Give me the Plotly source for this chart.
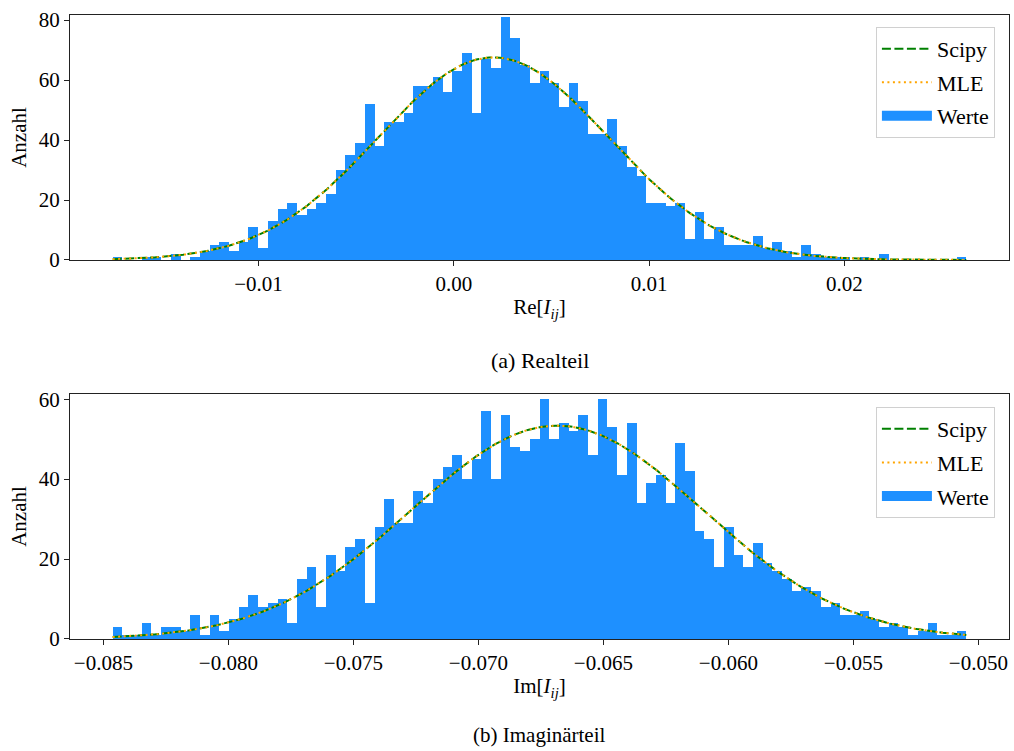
import numpy as np
import plotly.graph_objects as go

# ---------------- data ----------------
# Real part histogram (88 bins)
re_edge0 = -0.017466
re_width = 0.0004967
re_counts = [1, 0, 0, 1, 1, 0, 2, 0, 1, 3, 5, 6, 3, 6, 11, 4, 13, 17, 19, 15, 17, 19, 22,
             30, 35, 39, 52, 38, 46, 46, 49, 58, 58, 61, 56, 63, 69, 49, 67, 64, 81, 74, 65, 59, 63, 59,
             51, 59, 53, 42, 42, 47, 38, 31, 28, 19, 19, 18, 19, 7, 16, 7, 11, 5, 5, 5, 8, 4,
             6, 3, 1, 5, 2, 1, 1, 1, 0, 1, 0, 2, 0, 0, 0, 0, 0, 0, 0, 1]
re_mu_scipy, re_sigma_scipy = 0.00203, 0.00588
re_mu_mle, re_sigma_mle = 0.00203, 0.00588

# Imaginary part histogram (88 bins)
im_edge0 = -0.084628
im_width = 0.000388
im_counts = [3, 1, 1, 4, 1, 3, 3, 2, 6, 1, 6, 2, 5, 8, 11, 8, 9, 10, 4, 15, 18, 8,
             21, 17, 23, 25, 9, 28, 35, 29, 29, 37, 34, 40, 43, 46, 40, 45, 57, 40, 56, 48, 47, 50, 60,
             50, 54, 52, 56, 46, 60, 53, 41, 54, 34, 39, 41, 34, 49, 42, 27, 25, 18, 28, 21, 18, 24, 19,
             17, 15, 12, 13, 12, 8, 9, 6, 6, 7, 5, 3, 4, 3, 1, 2, 4, 1, 1, 2]
im_mu_scipy, im_sigma_scipy = -0.06685, 0.00581
im_mu_mle, im_sigma_mle = -0.06685, 0.00581

re_yticks = [0, 20, 40, 60, 80]
im_yticks = [0, 20, 40, 60]

# ---------------- helpers ----------------
FONT = "Liberation Serif, Times New Roman, serif"
BLUE = "#1E90FF"
GREEN = "#008000"
ORANGE = "#FFA500"


def gauss(x, mu, sigma, n, w):
    return n * w * np.exp(-0.5 * ((x - mu) / sigma) ** 2) / (sigma * np.sqrt(2 * np.pi))


fig = go.Figure()


def add_panel(edge0, width, counts, mus, xa, ya, legend):
    counts = np.asarray(counts)
    nb = len(counts)
    edges = edge0 + width * np.arange(nb + 1)
    centers = 0.5 * (edges[:-1] + edges[1:])
    n = counts.sum()
    xs = np.linspace(edges[0], edges[-1], 400)
    fig.add_trace(go.Bar(x=centers, y=counts, width=width, marker=dict(color=BLUE, line=dict(width=0)),
                         name="Werte", xaxis=xa, yaxis=ya, showlegend=False))
    (mu_s, sg_s), (mu_m, sg_m) = mus
    fig.add_trace(go.Scatter(x=xs, y=gauss(xs, mu_s, sg_s, n, width), mode="lines",
                             line=dict(color=GREEN, width=2, dash="9px,3.5px"), name="Scipy",
                             xaxis=xa, yaxis=ya, legend=legend, legendgroup=legend + "a"))
    fig.add_trace(go.Scatter(x=xs, y=gauss(xs, mu_m, sg_m, n, width), mode="lines",
                             line=dict(color=ORANGE, width=2, dash="2px,3.5px"), name="MLE",
                             xaxis=xa, yaxis=ya, legend=legend, legendgroup=legend + "b"))
    # legend entry for the histogram patch
    fig.add_trace(go.Scatter(x=[None], y=[None], mode="lines", line=dict(color=BLUE, width=16),
                             name="Werte", xaxis=xa, yaxis=ya, legend=legend, legendgroup=legend + "c"))
    span = edges[-1] - edges[0]
    return [edges[0] - 0.05 * span, edges[-1] + 0.05 * span]


re_range = add_panel(re_edge0, re_width, re_counts,
                     [(re_mu_scipy, re_sigma_scipy), (re_mu_mle, re_sigma_mle)], "x", "y", "legend")
im_range = add_panel(im_edge0, im_width, im_counts,
                     [(im_mu_scipy, im_sigma_scipy), (im_mu_mle, im_sigma_mle)], "x2", "y2", "legend2")

axis_common = dict(showgrid=False, zeroline=False, showline=True, linecolor="#222", linewidth=1,
                   mirror=True, ticks="outside", ticklen=5, tickwidth=1, tickcolor="#222",
                   tickfont=dict(family=FONT, size=21, color="black"))

legend_common = dict(font=dict(family=FONT, size=22, color="black"), bgcolor="rgba(255,255,255,0.8)",
                     bordercolor="#d0d0d0", borderwidth=1, xanchor="right", yanchor="top",
                     itemwidth=50, traceorder="grouped", tracegroupgap=2)

fig.update_layout(
    width=1014, height=751,
    margin=dict(l=70, r=5, t=15, b=112),
    paper_bgcolor="white", plot_bgcolor="white",
    bargap=0, barmode="overlay",
    font=dict(family=FONT, size=21, color="black"),
    xaxis=dict(domain=[0, 1], anchor="y", range=re_range, dtick=0.01, tick0=0, tickformat=".2f",
               title=dict(text="Re[<i>I</i><sub><i>ij</i></sub>]", standoff=4,
                          font=dict(family=FONT, size=21)), **axis_common),
    yaxis=dict(domain=[0.6074, 1.0], anchor="x", range=[0, 81.7], tickvals=re_yticks,
               title=dict(text="Anzahl", standoff=6, font=dict(family=FONT, size=21)), **axis_common),
    xaxis2=dict(domain=[0, 1], anchor="y2", range=im_range, dtick=0.005, tick0=0, tickformat=".3f",
                title=dict(text="Im[<i>I</i><sub><i>ij</i></sub>]", standoff=4,
                           font=dict(family=FONT, size=21)), **axis_common),
    yaxis2=dict(domain=[0.0, 0.3926], anchor="x2", range=[0, 61.3], tickvals=im_yticks,
                title=dict(text="Anzahl", standoff=6, font=dict(family=FONT, size=21)), **axis_common),
    legend=dict(x=0.985, y=0.981, **legend_common),
    legend2=dict(x=0.985, y=0.3718, **legend_common),
    showlegend=True,
    annotations=[
        dict(text="(a) Realteil", xref="paper", yref="paper", x=0.5, y=0.447, showarrow=False,
             xanchor="center", yanchor="middle", font=dict(family=FONT, size=22, color="black")),
        dict(text="(b) Imaginärteil", xref="paper", yref="paper", x=0.5, y=-0.1765, showarrow=False,
             xanchor="center", yanchor="bottom", font=dict(family=FONT, size=21, color="black")),
    ],
)

fig.write_html("out.html")
